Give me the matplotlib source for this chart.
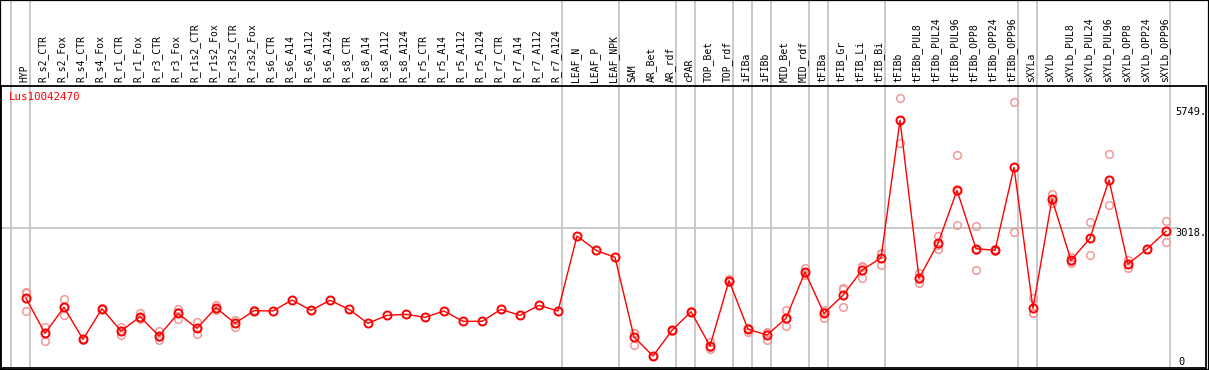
import matplotlib
matplotlib.use("Agg")
import matplotlib.pyplot as plt
from matplotlib.patches import Rectangle

gene = "Lus10042470"

samples = [
    "HYP", "R_s2_CTR", "R_s2_Fox", "R_s4_CTR", "R_s4_Fox", "R_r1_CTR", "R_r1_Fox",
    "R_r3_CTR", "R_r3_Fox", "R_r1s2_CTR", "R_r1s2_Fox", "R_r3s2_CTR", "R_r3s2_Fox",
    "R_s6_CTR", "R_s6_A14", "R_s6_A112", "R_s6_A124", "R_s8_CTR", "R_s8_A14",
    "R_s8_A112", "R_s8_A124", "R_r5_CTR", "R_r5_A14", "R_r5_A112", "R_r5_A124",
    "R_r7_CTR", "R_r7_A14", "R_r7_A112", "R_r7_A124", "LEAF_N", "LEAF_P", "LEAF_NPK",
    "SAM", "AR_Bet", "AR_rdf", "cPAR", "TOP_Bet", "TOP_rdf", "iFIBa", "iFIBb",
    "MID_Bet", "MID_rdf", "tFIBa", "tFIB_Gr", "tFIB_Li", "tFIB_Bi", "tFIBb",
    "tFIBb_PUL8", "tFIBb_PUL24", "tFIBb_PUL96", "tFIBb_OPP8", "tFIBb_OPP24", "tFIBb_OPP96",
    "sXYLa", "sXYLb", "sXYLb_PUL8", "sXYLb_PUL24", "sXYLb_PUL96", "sXYLb_OPP8",
    "sXYLb_OPP24", "sXYLb_OPP96",
]

means = [
    1435, 646, 1232, 511, 1201, 698, 1021, 586, 1096, 758, 1223, 871, 1156, 1149, 1396,
    1164, 1389, 1186, 871, 1051, 1073, 1006, 1149, 916, 916, 1186, 1051, 1276, 1149,
    2838, 2515, 2357,
    563, 135, 713, 1133, 360, 1832, 736, 608, 983, 2027, 1096, 1502, 2072, 2342,
    5444, 1885, 2673, 3867, 2552, 2515, 4385, 1209, 3671, 2290, 2786, 4099, 2207, 2545, 2943,
]

replicates = [
    [1583, 1547, 1149], [795, 663, 480], [1412, 1233, 1051], [520, 511, 502], [1210, 1195],
    [781, 705, 608], [1110, 990, 962], [698, 565, 495], [1187, 1126, 975],
    [894, 756, 624], [1284, 1214, 1171], [946, 886, 781], [1165, 1148],
    [], [], [], [], [], [], [], [], [], [], [], [], [], [], [], [],
    [], [], [],
    [660, 646, 383], [140, 130], [720, 705], [1140, 1125], [457, 337, 286],
    [1860, 1826, 1810], [773, 752, 683], [683, 646, 495], [1171, 974, 804],
    [2124, 1998, 1959], [1171, 1119, 998], [1673, 1637, 1232], [2169, 2146, 1899],
    [2462, 2425, 2177],
    [5939, 5454, 4939], [2011, 1872, 1772], [2838, 2643, 2538], [4662, 3860, 3079],
    [3063, 2528, 2065], [2540, 2505], [5849, 4385, 2921],
    [1435, 1096, 1096], [3777, 3648, 3588], [2372, 2275, 2223], [3164, 2784, 2410],
    [4678, 4090, 3529], [2297, 2214, 2110], [2550, 2540], [3176, 2943, 2709],
]

# index of last sample in each group (grey separators drawn after them)
group_ends = [-1, 0, 28, 31, 34, 35, 37, 38, 39, 41, 42, 45, 52, 53, 60]
ref_lines = [3018, 5749]

W, H = 1209, 370
fig = plt.figure(figsize=(W / 100, H / 100), dpi=100)
ax = fig.add_axes([1 / W, 2 / H, 1205 / W, 282 / H])

xs = list(range(len(samples)))
ax.set_xlim(-25 / 19, -25 / 19 + 1205 / 19)
ax.set_ylim(-135, 6216)

top_frac = 1 + 86 / 282
for g in group_ends:
    ax.axvline(g + 0.2, ymin=0, ymax=top_frac, color="#c0c0c0", lw=1.2, clip_on=False, zorder=1)

ax.axhline(ref_lines[0], xmin=0, xmax=0.976, color="#c0c0c0", lw=1.2, zorder=1)

for x, reps in zip(xs, replicates):
    if reps:
        ax.plot([x] * len(reps), reps, linestyle="none", marker="o", ms=5.5,
                mfc="none", mec="#f09898", mew=1.1, zorder=2)

ax.plot(xs, means, color="red", lw=1.0, marker="o", ms=5.8, mfc="none",
        mec="red", mew=1.4, zorder=3)

mono = "DejaVu Sans Mono"
for x, name in zip(xs, samples):
    ax.text(x - 0.1, 1 + 4 / 282, name, rotation=90, ha="center", va="bottom",
            transform=ax.get_xaxis_transform(), fontsize=7, family=mono, clip_on=False)

ax.text(8 / 1205, 1 - 11 / 282, gene, color="red", fontsize=7.8, family=mono,
        transform=ax.transAxes, ha="left", va="center")

for v in ref_lines:
    ax.text(1174 / 1205, v, f"{v}.", fontsize=7.5, family=mono, ha="left", va="top",
            transform=ax.get_yaxis_transform())
ax.text(1177 / 1205, 0, "0", fontsize=7.5, family=mono, ha="left", va="center",
        transform=ax.get_yaxis_transform())

ax.set_xticks([])
ax.set_yticks([])
for s in ax.spines.values():
    s.set_color("black")
    s.set_linewidth(1.3)

fig.patches.append(Rectangle((0, 0), 1, 1, transform=fig.transFigure, fill=False,
                             edgecolor="black", lw=1.6))

fig.savefig("out.png", dpi=100)
